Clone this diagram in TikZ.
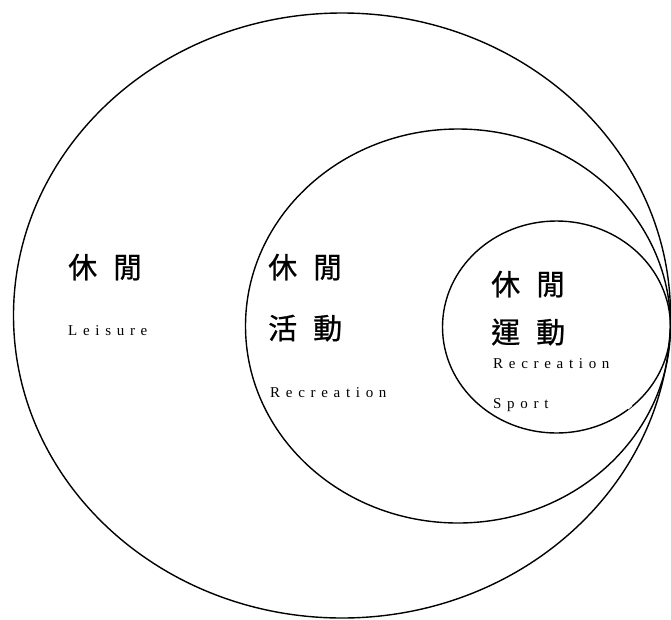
\documentclass[tikz,border=0pt]{standalone}
\usepackage{fontspec}
\setmainfont{Liberation Serif}
\newfontfamily\cjk[FakeBold=0.8]{Noto Sans CJK TC}
\newfontfamily\spaced[LetterSpace=38]{Liberation Serif}
\begin{document}
\begin{tikzpicture}[x=1pt,y=-1pt,
  ring/.style={draw=black,line width=1.4pt},
  zh/.style={anchor=base west,inner sep=0pt,font=\cjk\fontsize{29}{31}\selectfont},
  en/.style={anchor=base west,inner sep=0pt,font=\spaced\fontsize{15}{17}\selectfont}]
\useasboundingbox (0,0) rectangle (671,619);
\fill[white] (0,0) rectangle (671,619);
% rings
\draw[ring] (342,315.5) ellipse [x radius=328.5, y radius=302.5];
\draw[ring] (458,326) ellipse [x radius=212.5, y radius=197];
\draw[ring] (556.5,327) ellipse [x radius=114, y radius=106];
\coordinate (g1) at (627.5,408.5);
\coordinate (g2) at (631.5,405);
\draw[white,line width=2.4pt] (g1) -- (g2);
% outer texts
\node[zh] (o1) at (68,278) {休\hspace{16pt}閒};
\node[en] (o2) at (68,335) {Leisure};
% middle texts
\node[zh] (m1) at (268,278) {休\hspace{16pt}閒};
\node[zh] (m2) at (268,339) {活\hspace{16pt}動};
\node[en] (m3) at (270,397) {Recreation};
% inner texts
\node[zh] (i1) at (491,295) {休\hspace{16pt}閒};
\node[zh] (i2) at (491,343) {運\hspace{16pt}動};
\node[en] (i3) at (493,368) {Recreation};
\node[en] (i4) at (493,408) {Sport};
\end{tikzpicture}
\end{document}
